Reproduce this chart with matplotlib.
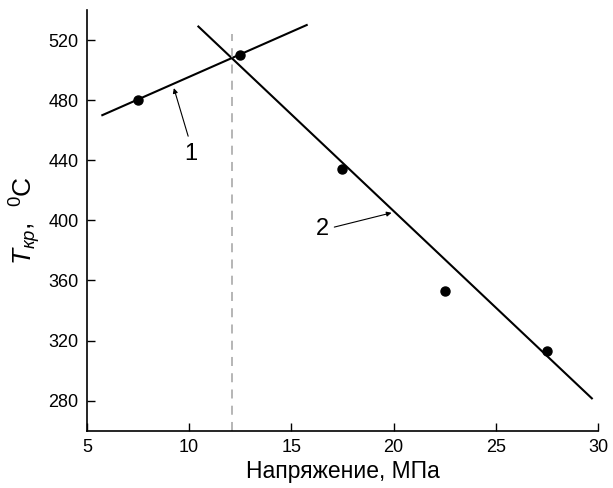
import numpy as np
import matplotlib
matplotlib.use('Agg')
import matplotlib.pyplot as plt

plt.rcParams['font.family'] = ['Liberation Sans', 'DejaVu Sans']
plt.rcParams['mathtext.fontset'] = 'custom'
plt.rcParams['mathtext.rm'] = 'Liberation Sans'
plt.rcParams['mathtext.it'] = 'Liberation Sans:italic'

# measured points
stress = [7.5, 12.5, 17.5, 22.5, 27.5]
temp = [480, 510, 434, 353, 313]

# fitted lines (end points)
line1_x = [5.75, 15.75]
line1_y = [470, 530]
line2_x = [10.45, 29.7]
line2_y = [529, 281.5]

crit_stress = 12.1

fig = plt.figure(figsize=(6.13, 4.88), dpi=100)
ax = fig.add_axes([0.1419, 0.1175, 0.8336, 0.862])

ax.plot(line1_x, line1_y, color='black', lw=1.5)
ax.plot(line2_x, line2_y, color='black', lw=1.5)
ax.plot(stress, temp, 'o', color='black', ms=6.5)
ax.plot([crit_stress, crit_stress], [260, 524], color='#b0b0b0', lw=1.3, dashes=(5, 4))

# labels with arrows
arrow = dict(arrowstyle='-|>', color='black', lw=0.8, mutation_scale=7,
             shrinkA=0, shrinkB=0)
ax.annotate('', xy=(9.25, 488), xytext=(9.95, 456), arrowprops=arrow)
ax.text(10.1, 444, '1', fontsize=17, ha='center', va='center')
ax.annotate('', xy=(19.9, 405), xytext=(17.1, 395.5), arrowprops=arrow)
ax.text(16.5, 394.5, '2', fontsize=17, ha='center', va='center')

ax.set_xlim(5, 30)
ax.set_ylim(260, 540)
ax.set_xticks([5, 10, 15, 20, 25, 30])
ax.set_yticks([280, 320, 360, 400, 440, 480, 520])
ax.tick_params(direction='in', length=6, width=1, labelsize=13, pad=6)
ax.spines['top'].set_visible(False)
ax.spines['right'].set_visible(False)
for s in ['left', 'bottom']:
    ax.spines[s].set_linewidth(1.2)

ax.set_xlabel('Напряжение, МПа', fontsize=16.5, labelpad=3)
ax.set_ylabel(r'$\mathit{T}_{\mathit{кр}}$,  $^{0}$C', fontsize=19, labelpad=4)

fig.savefig('out.png', dpi=100)
